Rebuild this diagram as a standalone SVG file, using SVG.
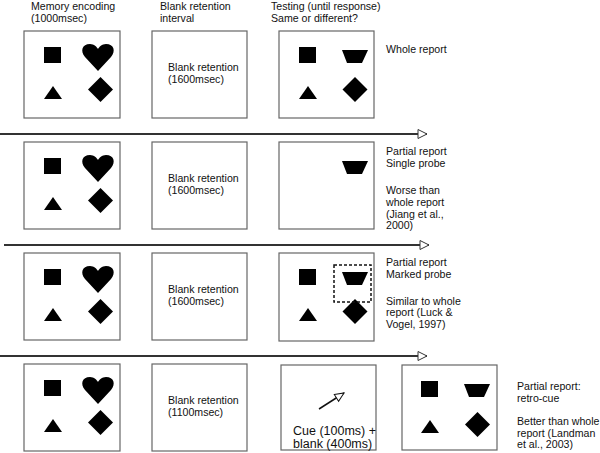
<svg xmlns="http://www.w3.org/2000/svg" xmlns:xlink="http://www.w3.org/1999/xlink" width="600" height="453" viewBox="0 0 600 453">
<style>
text{font-family:"Liberation Sans",Arial,sans-serif;font-size:10.6px;fill:#111}
.cue{font-size:12.5px}
.box{fill:#fff;stroke:#666;stroke-width:1.2}
.shape{fill:#000}
.tl{stroke:#333;stroke-width:2;fill:none}
.dash{fill:none;stroke:#111;stroke-width:1.5;stroke-dasharray:3 2}
</style>
<defs>
<marker id="open" markerUnits="userSpaceOnUse" markerWidth="12" markerHeight="12" refX="10" refY="5.5" orient="auto" viewBox="0 0 12 12">
<path d="M1,1 L10,5.5 L1,10 Z" fill="#fff" stroke="#333" stroke-width="1"/>
</marker>
<marker id="open2" markerUnits="userSpaceOnUse" markerWidth="12" markerHeight="12" refX="10" refY="5" orient="auto" viewBox="0 0 12 12">
<path d="M1,1 L10,5 L1,9 Z" fill="#fff" stroke="#111" stroke-width="1"/>
</marker>
<g id="sq"><rect class="shape" x="20" y="16" width="17" height="16"/></g>
<g id="heart"><path class="shape" d="M74,40 L61,26 C56,20 58,13 66,13 C70,13 73,16 74,18 C75,16 78,13 82,13 C90,13 92,20 87,26 Z"/></g>
<g id="tri"><path class="shape" d="M20,68 L38,68 L29,55 Z"/></g>
<g id="dia"><path class="shape" d="M76.5,46 L89,58.5 L76.5,71 L64,58.5 Z"/></g>
<g id="trap"><path class="shape" d="M63,19 L89,19 L83,32 L68,32 Z"/></g>
</defs>

<g id="headers">
<text x="31" y="10">Memory encoding</text>
<text x="31" y="22">(1000msec)</text>
<text x="160" y="10">Blank retention</text>
<text x="160" y="22">interval</text>
<text x="271" y="10">Testing (until response)</text>
<text x="271" y="22">Same or different?</text>
</g>

<!-- Row 1 -->
<g id="r1-encode" transform="translate(24,31)">
<rect class="box" x="0" y="0" width="96" height="87"/>
<use href="#sq"/><use href="#heart"/><use href="#tri"/><use href="#dia"/>
</g>
<g id="r1-blank" transform="translate(152,31)">
<rect class="box" x="0" y="0" width="95" height="87"/>
<text x="16" y="40">Blank retention</text>
<text x="16" y="52">(1600msec)</text>
</g>
<g id="r1-test" transform="translate(279,31)">
<rect class="box" x="0" y="0" width="95" height="87"/>
<use href="#sq"/><use href="#trap"/><use href="#tri"/><use href="#dia" transform="translate(-0.5,0)"/>
</g>
<g id="r1-label"><text x="386" y="53">Whole report</text></g>

<!-- Row 2 -->
<g id="r2-encode" transform="translate(24,142)">
<rect class="box" x="0" y="0" width="96" height="87"/>
<use href="#sq"/><use href="#heart"/><use href="#tri"/><use href="#dia"/>
</g>
<g id="r2-blank" transform="translate(152,142)">
<rect class="box" x="0" y="0" width="95" height="87"/>
<text x="16" y="40">Blank retention</text>
<text x="16" y="52">(1600msec)</text>
</g>
<g id="r2-test" transform="translate(279,142)">
<rect class="box" x="0" y="0" width="95" height="87"/>
<use href="#trap"/>
</g>
<g id="r2-label">
<text x="386" y="155">Partial report</text>
<text x="386" y="167">Single probe</text>
<text x="386" y="194">Worse than</text>
<text x="386" y="206">whole report</text>
<text x="386" y="218">(Jiang et al.,</text>
<text x="386" y="229">2000)</text>
</g>

<!-- Row 3 -->
<g id="r3-encode" transform="translate(24,253)">
<rect class="box" x="0" y="0" width="96" height="87"/>
<use href="#sq"/><use href="#heart"/><use href="#tri"/><use href="#dia"/>
</g>
<g id="r3-blank" transform="translate(152,253)">
<rect class="box" x="0" y="0" width="95" height="87"/>
<text x="16" y="40">Blank retention</text>
<text x="16" y="52">(1600msec)</text>
</g>
<g id="r3-test" transform="translate(279,253)">
<rect class="box" x="0" y="0" width="95" height="88"/>
<use href="#sq"/><use href="#trap"/><use href="#tri"/><use href="#dia" transform="translate(-0.5,0)"/>
<rect class="dash" x="55" y="12" width="37" height="37"/>
</g>
<g id="r3-label">
<text x="386" y="266">Partial report</text>
<text x="386" y="278">Marked probe</text>
<text x="386" y="305">Similar to whole</text>
<text x="386" y="316">report (Luck &amp;</text>
<text x="386" y="328">Vogel, 1997)</text>
</g>

<!-- Row 4 -->
<g id="r4-encode" transform="translate(24,364)">
<rect class="box" x="0" y="0" width="96" height="87"/>
<use href="#sq"/><use href="#heart"/><use href="#tri"/><use href="#dia"/>
</g>
<g id="r4-blank" transform="translate(152,364)">
<rect class="box" x="0" y="0" width="95" height="87"/>
<text x="16" y="40">Blank retention</text>
<text x="16" y="52">(1100msec)</text>
</g>
<g id="r4-cue" transform="translate(281,365)">
<rect class="box" x="0" y="0" width="95" height="85"/>
<line x1="38" y1="44" x2="63" y2="28" stroke="#111" stroke-width="1.5" marker-end="url(#open2)"/>
<text class="cue" x="12" y="70">Cue (100ms) +</text>
<text class="cue" x="12" y="83">blank (400ms)</text>
</g>
<g id="r4-test" transform="translate(402,365)">
<rect class="box" x="0" y="0" width="95" height="85"/>
<use href="#sq" transform="translate(-1,0)"/><use href="#trap" transform="translate(-1,0)"/><use href="#tri" transform="translate(-1,0)"/><use href="#dia" transform="translate(-1,1)"/>
</g>
<g id="r4-label">
<text x="517" y="390">Partial report:</text>
<text x="517" y="402">retro-cue</text>
<text x="517" y="425">Better than whole</text>
<text x="517" y="437">report (Landman</text>
<text x="517" y="448">et al., 2003)</text>
</g>

<g id="connectors">
<line class="tl" x1="0" y1="134" x2="427" y2="134" marker-end="url(#open)"/>
<line class="tl" x1="4" y1="245" x2="429" y2="245" marker-end="url(#open)"/>
<line class="tl" x1="0" y1="356" x2="427" y2="356" marker-end="url(#open)"/>
</g>
</svg>
